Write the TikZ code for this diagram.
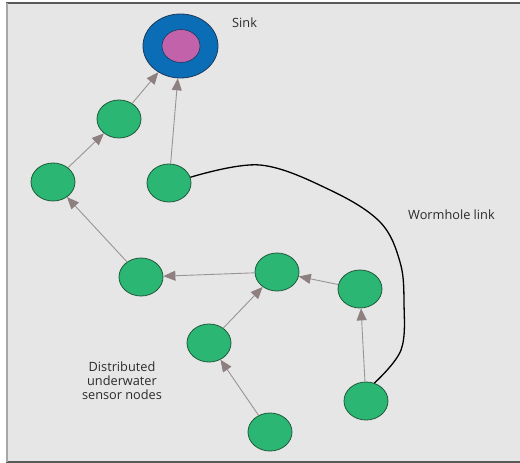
\documentclass[tikz,border=0pt]{standalone}
\usepackage{fontspec}
\setmainfont{Open Sans}
\usetikzlibrary{shapes.geometric,arrows.meta}
\definecolor{bgc}{HTML}{E6E6E6}
\definecolor{nodegreen}{HTML}{2BB673}
\definecolor{nodeedge}{HTML}{1E5A3A}
\definecolor{sinkblue}{HTML}{0B6DB5}
\definecolor{sinkedge}{HTML}{1B3A5C}
\definecolor{sinkpink}{HTML}{C262AA}
\definecolor{arrowc}{HTML}{9A9494}
\definecolor{tipc}{HTML}{8E8080}
\definecolor{txtc}{HTML}{2B2B2B}
\begin{document}
\begin{tikzpicture}[x=1bp,y=-1bp,
  sensor/.style={ellipse,draw=nodeedge,line width=0.8bp,fill=nodegreen,minimum width=44bp,minimum height=38bp,inner sep=0pt},
  flow/.style={draw=arrowc,line width=0.9bp,-{Triangle[length=12bp,width=10bp,fill=tipc,color=tipc]}},
  lbl/.style={text=txtc,font=\fontsize{12.8}{14}\selectfont,align=center,inner sep=0pt}]
\useasboundingbox (0,0) rectangle (520,463);
\fill[white] (0,0) rectangle (520,463);
\fill[bgc] (6,3) rectangle (520,462);
\draw[color=black!65,line width=1.2bp] (6,3) -- (520,3);
\draw[color=black!65,line width=1.2bp] (6,462) -- (520,462);
\draw[color=black!35,line width=2.5bp] (7,3) -- (7,462);
% sink
\node[ellipse,draw=sinkedge,line width=0.8bp,fill=sinkblue,minimum width=75bp,minimum height=64bp,inner sep=0pt] (sink) at (180.5,46) {};
\node[ellipse,draw=sinkedge,line width=0.6bp,fill=sinkpink,minimum width=38bp,minimum height=33bp,inner sep=0pt] (sinkin) at (181,46) {};
% sensors
\node[sensor] (A) at (119,119) {};
\node[sensor] (B) at (53,182) {};
\node[sensor] (C) at (169,183) {};
\node[sensor] (D) at (141,277) {};
\node[sensor] (E) at (277,272) {};
\node[sensor] (F) at (360,289) {};
\node[sensor] (G) at (209,343) {};
\node[sensor] (H) at (366,401) {};
\node[sensor] (I) at (270,432) {};
% arrows
\draw[flow] (B) -- (A);
\draw[flow] (A) -- (sink);
\draw[flow] (C) -- (sink);
\draw[flow] (D) -- (B);
\draw[flow] (E) -- (D);
\draw[flow] (F) -- (E);
\draw[flow] (G) -- (E);
\draw[flow] (I) -- (G);
\draw[flow] (H) -- (F);
% wormhole
\draw[black,line width=1.3bp] plot[smooth,tension=0.6] coordinates {(C.15) (260,165) (330,190) (380,222) (400,262) (404,303) (401,350) (H.65)};
% labels
\node[lbl,anchor=west] (sinklbl) at (232,23) {Sink};
\node[lbl,anchor=west] (wlbl) at (408,215) {Wormhole link};
\node[lbl] (dlbl) at (122,381) {Distributed\\underwater\\sensor nodes};
\end{tikzpicture}
\end{document}
